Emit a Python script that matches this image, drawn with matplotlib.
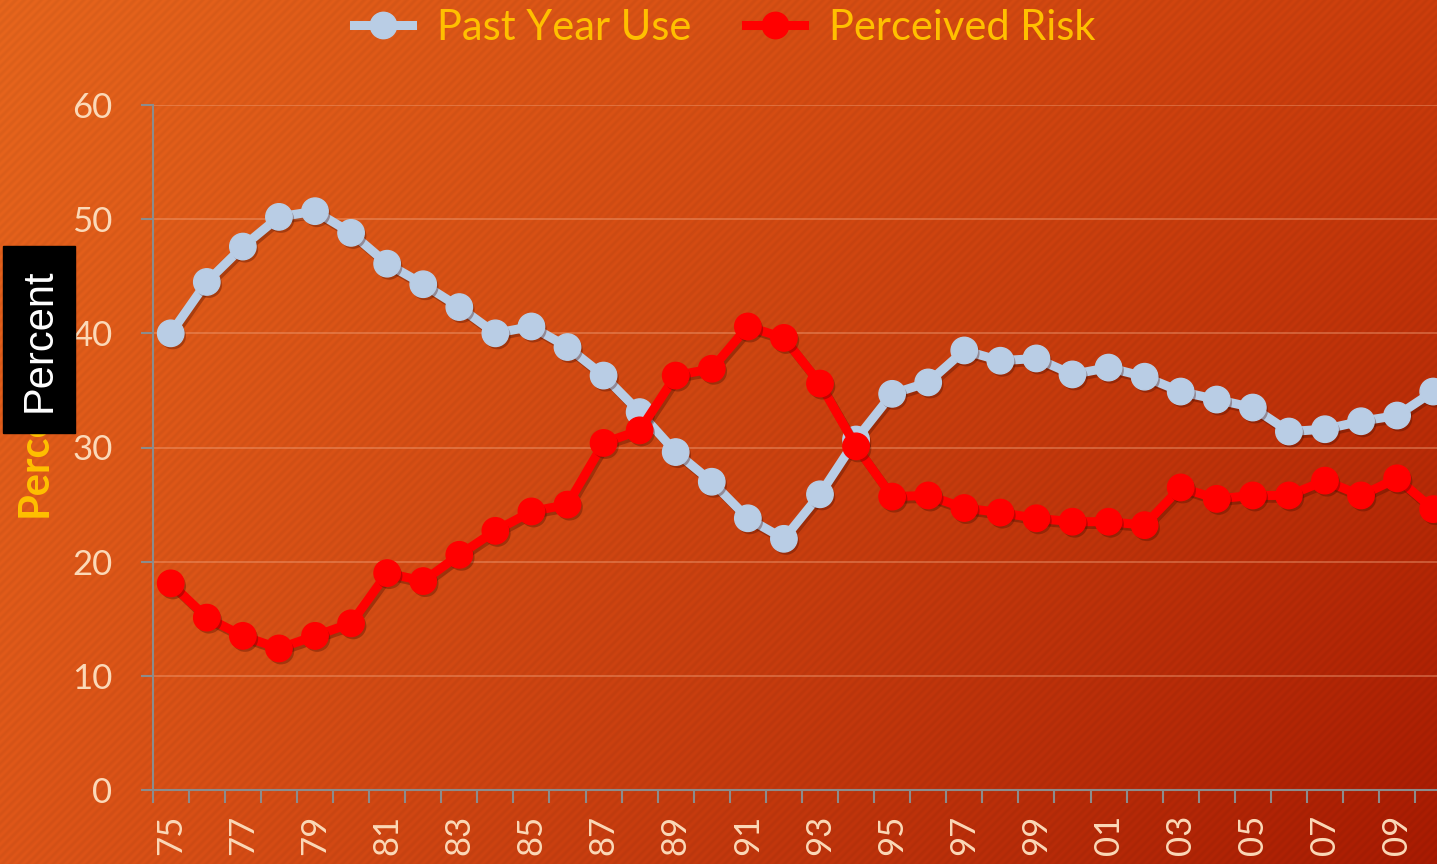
import matplotlib
matplotlib.use("Agg")
import matplotlib.pyplot as plt
import matplotlib.patheffects as pe
from matplotlib.lines import Line2D
from matplotlib.patches import Rectangle
import numpy as np

# survey years 1975-2010
years = list(range(1975, 2011))
past_year_use = [40.0, 44.5, 47.6, 50.2, 50.7, 48.8, 46.1, 44.3, 42.3, 40.0,
                 40.6, 38.8, 36.3, 33.1, 29.6, 27.0, 23.8, 22.0, 25.9, 30.7,
                 34.7, 35.7, 38.5, 37.6, 37.8, 36.4, 37.0, 36.2, 34.9, 34.2,
                 33.5, 31.4, 31.6, 32.3, 32.8, 34.9]
perceived_risk = [18.1, 15.1, 13.5, 12.4, 13.5, 14.6, 19.0, 18.3, 20.6, 22.7,
                  24.4, 25.0, 30.4, 31.5, 36.3, 36.9, 40.6, 39.6, 35.6, 30.1,
                  25.7, 25.8, 24.7, 24.3, 23.8, 23.5, 23.5, 23.2, 26.5, 25.5,
                  25.8, 25.8, 27.1, 25.8, 27.3, 24.6]
year_labels = [f"{y % 100:02d}" for y in years]

BLUE = '#B9CDE5'
RED = '#FF0000'
GOLD = '#FFC000'
PEACH = '#FBD9B8'
FONT = 'Lato'

W, H = 1437, 864
fig = plt.figure(figsize=(W / 100, H / 100), dpi=100)

# background: diagonal orange -> dark red gradient with fine stripes
tl = np.array([0xE2, 0x63, 0x1C]) / 255
tr = np.array([0xC8, 0x3C, 0x0C]) / 255
bl = np.array([0xDA, 0x54, 0x18]) / 255
br = np.array([0xA5, 0x1A, 0x02]) / 255
u = np.linspace(0, 1, W)[None, :, None]
v = np.linspace(0, 1, H)[:, None, None]
grad = (tl * (1 - u) * (1 - v) + tr * u * (1 - v) +
        bl * (1 - u) * v + br * u * v)
xx, yy = np.meshgrid(np.arange(W), np.arange(H))
stripes = 1 + 0.025 * np.sin(2 * np.pi * (xx + yy) / 8.5)
grad = np.clip(grad * stripes[:, :, None], 0, 1)
bg = fig.add_axes([0, 0, 1, 1], zorder=-5)
bg.imshow(grad, aspect='auto', extent=[0, 1, 0, 1])
bg.axis('off')

# plot area (right edge runs past the figure)
left = 152.7 / W
bottom = (H - 790) / H
top = (H - 105) / H
step = 36.07 / W
x_max = 36.0
ax = fig.add_axes([left, bottom, step * (x_max + 0.5), top - bottom])
ax.set_facecolor('none')

x = np.arange(len(years))
shadow_line = [pe.SimpleLineShadow(offset=(1.5, -2), shadow_color='#4a0c00', alpha=0.35), pe.Normal()]
shadow_mark = [pe.SimplePatchShadow(offset=(1.5, -2), shadow_rgbFace='#4a0c00', alpha=0.35), pe.Normal()]

for vals, col in [(past_year_use, BLUE), (perceived_risk, RED)]:
    ax.plot(x, vals, color=col, lw=6.5, solid_capstyle='round',
            path_effects=shadow_line, zorder=3)
    ax.plot(x, vals, ls='none', marker='o', ms=19, color=col, mec=col,
            path_effects=shadow_mark, zorder=3)

ax.set_ylim(0, 60)
ax.set_xlim(-0.5, x_max)
ax.set_yticks(range(0, 61, 10))
ax.set_yticklabels([str(t) for t in range(0, 61, 10)], fontsize=25,
                   color=PEACH, family=FONT)
ax.tick_params(axis='y', length=9, width=1.5, color='#8C8C8C', pad=20)

# tick marks between categories, labels on every other year
ax.set_xticks(np.arange(-0.5, x_max, 1.0))
ax.set_xticklabels([])
ax.tick_params(axis='x', which='major', length=9, width=1.5, color='#8C8C8C')
ax.set_xticks(x[::2], minor=True)
ax.set_xticklabels(year_labels[::2], minor=True, rotation=90, fontsize=25,
                   color=PEACH, family=FONT)
ax.tick_params(axis='x', which='minor', length=0, pad=18)
for lab in ax.get_xticklabels(minor=True):
    lab.set_va('top')

ax.grid(axis='y', color='#F2A27A', alpha=0.45, lw=1.3)
ax.set_axisbelow(True)
for side in ['top', 'right']:
    ax.spines[side].set_visible(False)
for side in ['left', 'bottom']:
    ax.spines[side].set_color('#8C8C8C')
    ax.spines[side].set_linewidth(1.5)

# axis title, partly covered by the black caption box
fig.text(35 / W, 1 - 445 / H, 'Percent', rotation=90, ha='center', va='center',
         fontsize=30, fontweight='bold', color=GOLD, family=FONT)
fig.patches.append(Rectangle((3 / W, 1 - 433 / H), 72 / W, 187 / H,
                             transform=fig.transFigure, color='black', zorder=5))
fig.text(40 / W, 1 - 340 / H, 'Percent', rotation=90, ha='center', va='center',
         fontsize=30, color='white', family='Liberation Sans', zorder=6)

handles = [Line2D([], [], color=BLUE, lw=6.5, marker='o', ms=19),
           Line2D([], [], color=RED, lw=6.5, marker='o', ms=19)]
leg = fig.legend(handles, ['Past Year Use', 'Perceived Risk'], loc='center',
                 bbox_to_anchor=(725 / W, 1 - 28 / H), ncol=2, frameon=False,
                 prop={'family': FONT, 'size': 30}, handlelength=1.4,
                 handletextpad=0.6, columnspacing=1.3, labelcolor=GOLD)

fig.savefig('out.png', dpi=100)
